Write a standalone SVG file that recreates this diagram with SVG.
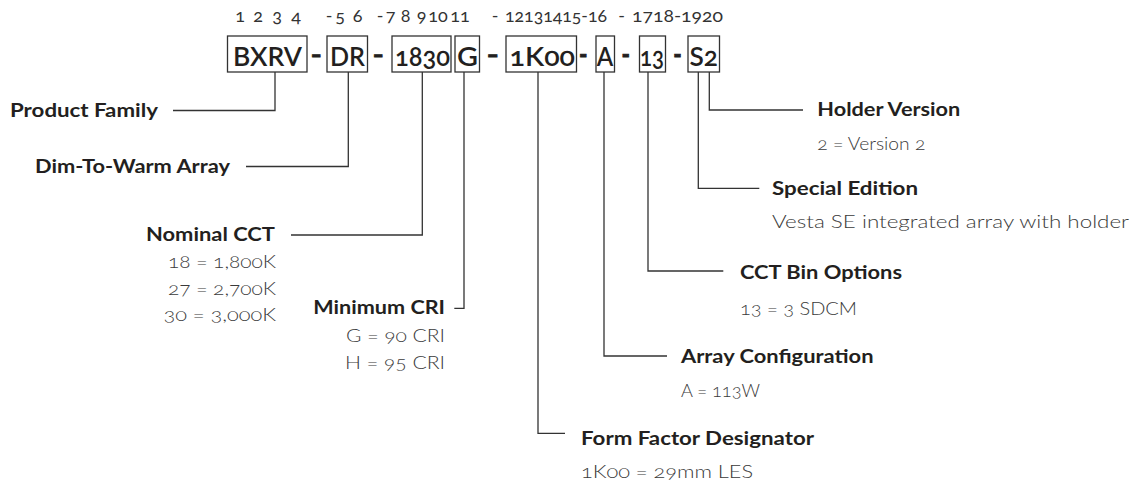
<svg xmlns="http://www.w3.org/2000/svg" width="1141" height="484" viewBox="0 0 1141 484">
<style>
text{font-family:"Lato","Open Sans","Liberation Sans",sans-serif;font-variant-numeric:oldstyle-nums;}
.idx{font-size:18px;font-weight:400;fill:#333;text-anchor:middle;}
.idxs{font-size:18px;font-weight:400;fill:#333;}
.code{font-size:27px;font-weight:600;fill:#231f20;}
.dash{font-size:27px;font-weight:700;fill:#231f20;stroke:#231f20;stroke-width:0.8;}
.box{fill:#fff;stroke:#333;stroke-width:1.3;}
.t{font-size:19px;font-weight:700;fill:#231f20;}
.d{font-size:17.5px;font-weight:300;fill:#3a3a3a;}
.r{text-anchor:end;}
.conn{fill:none;stroke:#333;stroke-width:1.3;}
</style>
<rect width="1141" height="484" fill="#fff"/>
<g id="position-index">
<text class="idx" x="240" y="22">1</text>
<text class="idx" x="258" y="22">2</text>
<text class="idx" x="277" y="22">3</text>
<text class="idx" x="296" y="22">4</text>
<text class="idx" x="329" y="22">-</text>
<text class="idx" x="340" y="22">5</text>
<text class="idx" x="357.5" y="22">6</text>
<text class="idx" x="380" y="22">-</text>
<text class="idx" x="390.5" y="22">7</text>
<text class="idx" x="405.5" y="22">8</text>
<text class="idx" x="421.5" y="22">9</text>
<text class="idx" x="438" y="22">10</text>
<text class="idx" x="460" y="22">11</text>
<text class="idx" x="495" y="22">-</text>
<text class="idxs" x="505" y="22" textLength="102" lengthAdjust="spacingAndGlyphs">12131415-16</text>
<text class="idx" x="621.5" y="22">-</text>
<text class="idxs" x="632" y="22" textLength="91" lengthAdjust="spacingAndGlyphs">1718-1920</text>
</g>
<g id="code">
<g id="box-bxrv"><rect class="box" x="227.5" y="36" width="79.5" height="36"/><text class="code" x="233" y="65.5" textLength="69" lengthAdjust="spacingAndGlyphs">BXRV</text></g>
<text class="dash" x="310.5" y="63.5" textLength="11.5" lengthAdjust="spacingAndGlyphs">–</text>
<g id="box-dr"><rect class="box" x="327" y="36" width="40.5" height="36"/><text class="code" x="330" y="65.5" textLength="35" lengthAdjust="spacingAndGlyphs">DR</text></g>
<text class="dash" x="372.5" y="63.5" textLength="11.5" lengthAdjust="spacingAndGlyphs">–</text>
<g id="box-1830"><rect class="box" x="392" y="36" width="59" height="36"/><text class="code" x="395" y="65.5" textLength="55" lengthAdjust="spacingAndGlyphs">1830</text></g>
<g id="box-g"><rect class="box" x="455" y="36" width="24.5" height="36"/><text class="code" x="457" y="65.5" textLength="21" lengthAdjust="spacingAndGlyphs">G</text></g>
<text class="dash" x="486.5" y="63.5" textLength="12.5" lengthAdjust="spacingAndGlyphs">–</text>
<g id="box-1k00"><rect class="box" x="506" y="36" width="70.5" height="36"/><text class="code" x="509.5" y="65.5" textLength="65.5" lengthAdjust="spacingAndGlyphs">1K00</text></g>
<text class="dash" x="579" y="63.5" textLength="8.5" lengthAdjust="spacingAndGlyphs">-</text>
<g id="box-a"><rect class="box" x="596" y="36" width="18.5" height="36"/><text class="code" x="596.8" y="65.5" textLength="16.5" lengthAdjust="spacingAndGlyphs">A</text></g>
<text class="dash" x="621.5" y="63.5" textLength="8.5" lengthAdjust="spacingAndGlyphs">-</text>
<g id="box-13"><rect class="box" x="639.5" y="36" width="26" height="36"/><text class="code" x="640" y="65.5" textLength="24" lengthAdjust="spacingAndGlyphs">13</text></g>
<text class="dash" x="673.3" y="63.5" textLength="8.5" lengthAdjust="spacingAndGlyphs">-</text>
<g id="box-s2"><rect class="box" x="688" y="36" width="31.5" height="36"/><text class="code" x="689.5" y="65.5" textLength="28.5" lengthAdjust="spacingAndGlyphs">S2</text></g>
</g>
<g id="connectors">
<polyline class="conn" points="173,110.5 275,110.5 275,72"/>
<polyline class="conn" points="246,166.5 348.3,166.5 348.3,72"/>
<polyline class="conn" points="291,235 422.3,235 422.3,72"/>
<polyline class="conn" points="454.3,308.3 464,308.3 464,72"/>
<polyline class="conn" points="565,433.3 538,433.3 538,72"/>
<polyline class="conn" points="667,356 604,356 604,72"/>
<polyline class="conn" points="723.3,271 648,271 648,72"/>
<polyline class="conn" points="759.3,188.3 698.3,188.3 698.3,72"/>
<polyline class="conn" points="803,110 709.3,110 709.3,72"/>
</g>
<g id="product-family"><text class="t" x="10" y="116.7" textLength="148" lengthAdjust="spacingAndGlyphs">Product Family</text></g>
<g id="dim-to-warm"><text class="t" x="35" y="172.7" textLength="195" lengthAdjust="spacingAndGlyphs">Dim-To-Warm Array</text></g>
<g id="nominal-cct">
<text class="t" x="146" y="240.7" textLength="129" lengthAdjust="spacingAndGlyphs">Nominal CCT</text>
<text class="d r" x="276" y="268" textLength="108" lengthAdjust="spacingAndGlyphs">18 = 1,800K</text>
<text class="d r" x="276" y="294.5" textLength="108" lengthAdjust="spacingAndGlyphs">27 = 2,700K</text>
<text class="d r" x="276" y="321" textLength="112.5" lengthAdjust="spacingAndGlyphs">30 = 3,000K</text>
</g>
<g id="minimum-cri">
<text class="t" x="313.3" y="313.5" textLength="131.7" lengthAdjust="spacingAndGlyphs">Minimum CRI</text>
<text class="d r" x="445" y="341.7" textLength="99" lengthAdjust="spacingAndGlyphs">G = 90 CRI</text>
<text class="d r" x="445" y="368.5" textLength="100" lengthAdjust="spacingAndGlyphs">H = 95 CRI</text>
</g>
<g id="form-factor">
<text class="t" x="581" y="445" textLength="233" lengthAdjust="spacingAndGlyphs">Form Factor Designator</text>
<text class="d" x="581" y="478" textLength="172" lengthAdjust="spacingAndGlyphs">1K00 = 29mm LES</text>
</g>
<g id="array-configuration">
<text class="t" x="681" y="363.3" textLength="192.5" lengthAdjust="spacingAndGlyphs">Array Configuration</text>
<text class="d" x="681" y="396.7" textLength="79" lengthAdjust="spacingAndGlyphs">A = 113W</text>
</g>
<g id="cct-bin">
<text class="t" x="740" y="279.3" textLength="162" lengthAdjust="spacingAndGlyphs">CCT Bin Options</text>
<text class="d" x="740" y="315" textLength="117" lengthAdjust="spacingAndGlyphs">13 = 3 SDCM</text>
</g>
<g id="special-edition">
<text class="t" x="772" y="195" textLength="146" lengthAdjust="spacingAndGlyphs">Special Edition</text>
<text class="d" x="772" y="228" textLength="357" lengthAdjust="spacingAndGlyphs">Vesta SE integrated array with holder</text>
</g>
<g id="holder-version">
<text class="t" x="817.3" y="115.7" textLength="143" lengthAdjust="spacingAndGlyphs">Holder Version</text>
<text class="d" x="817.3" y="150" textLength="108" lengthAdjust="spacingAndGlyphs">2 = Version 2</text>
</g>
</svg>
